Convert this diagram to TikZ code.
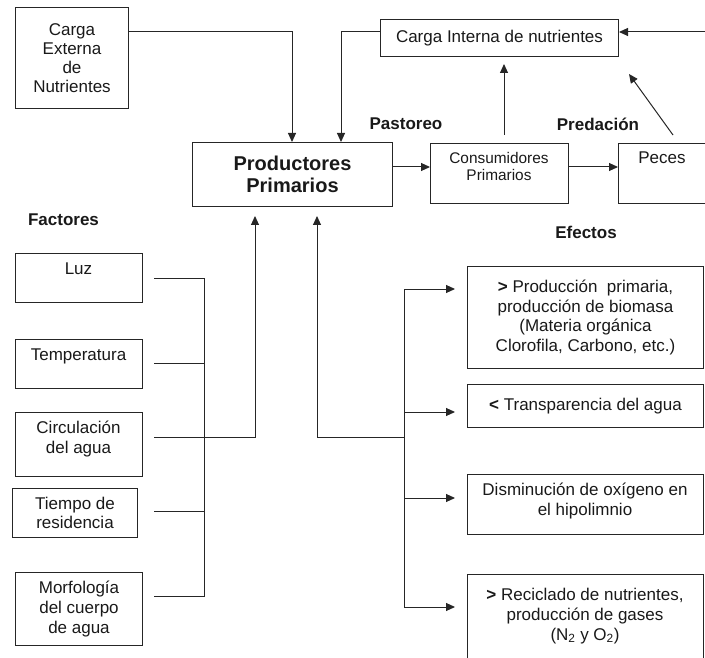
\documentclass[tikz,border=0pt]{standalone}
\usepackage{fontspec}
\setmainfont{Liberation Sans}
\usetikzlibrary{arrows.meta,calc}
\begin{document}
\begin{tikzpicture}[x=1pt,y=-1pt,
 ln/.style={line width=1pt, draw=black!85},
 arr/.style={ln, -{Triangle[length=9pt,width=8pt]}},
 box/.style={draw=black!85, line width=1pt, inner sep=0pt, anchor=north west, align=center,
   font=\fontsize{17}{19.8}\selectfont, text=black!90},
 txt/.style={font=\fontsize{17}{19.8}\selectfont, align=center, inner sep=0pt, text=black!90},
 bld/.style={font=\fontsize{17}{20}\selectfont\bfseries, inner sep=0pt, text=black!90}]
\useasboundingbox (0,0) rectangle (705,658);
% top part
\node[box, minimum width=113pt, minimum height=101pt, font=\fontsize{17}{19.2}\selectfont] (ext) at (15,7) {Carga\\Externa\\de\\Nutrientes};
\node[box, minimum width=200pt, minimum height=64pt, font=\fontsize{20}{22}\selectfont\bfseries] (prod) at (192,142) {Productores\\Primarios};
\node[box, minimum width=238pt, minimum height=37pt] (intl) at (380,19) {Carga Interna de nutrientes};
\node[box, minimum width=138pt, minimum height=60pt] (cons) at (430,143) {};
\node[txt, font=\fontsize{15.4}{17}\selectfont] (consT) at (499,166.5) {Consumidores\\Primarios};
\node[box, minimum width=94pt, minimum height=60pt] (peces) at (618,143) {};
\node[txt] (pecesT) at (662,158) {Peces};
\node[bld] (past) at (406,124) {Pastoreo};
\node[bld] (pred) at (598,124) {Predación};
% factores
\node[bld] (fact) at (63.5,220) {Factores};
\node[box, minimum width=127pt, minimum height=49pt] (luz) at (15,253) {};
\node[txt] (luzT) at (78.5,269) {Luz};
\node[box, minimum width=127pt, minimum height=49pt] (temp) at (15,339) {};
\node[txt] (tempT) at (78.5,356) {Temperatura};
\node[box, minimum width=127pt, minimum height=64pt] (circ) at (15,412) {};
\node[txt] (circT) at (78.5,439) {Circulación\\del agua};
\node[box, minimum width=125pt, minimum height=49pt] (tiem) at (12,488) {Tiempo de\\residencia};
\node[box, minimum width=127pt, minimum height=73pt] (morf) at (15,572) {Morfología\\del cuerpo\\de agua};
% efectos
\node[bld] (efe) at (586,232) {Efectos};
\node[box, minimum width=236pt, minimum height=102pt] (e1) at (467,266) {\textbf{>} Producción\ \ primaria,\\producción de biomasa\\(Materia orgánica\\Clorofila, Carbono, etc.)};
\node[box, minimum width=236pt, minimum height=43pt] (e2) at (467,384) {\textbf{<} Transparencia del agua};
\node[box, minimum width=236pt, minimum height=60pt] (e3) at (467,474) {};
\node[txt] (e3T) at (585,501) {Disminución de oxígeno en\\el hipolimnio};
\node[box, minimum width=236pt, minimum height=96pt] (e4) at (467,574) {};
\node[txt] (e4T) at (585,616) {\textbf{>} Reciclado de nutrientes,\\producción de gases\\(N\textsubscript{2} y O\textsubscript{2})};
% connectors top
\draw[arr] ($(ext.north east)+(0,25)$) -| ($(prod.north west)+(100,0)$);
\draw[arr] ($(intl.north west)+(0,13)$) -| ($(prod.north west)+(149,0)$);
\coordinate (rin) at (706,32);
\draw[arr] (rin) -- (rin -| intl.east);
\draw[arr] ($(cons.north west)+(74,-8)$) -- ($(intl.south west)+(124,7)$);
\draw[arr] ($(peces.north west)+(55,-8)$) -- ($(intl.south east)+(10,17)$);
\draw[arr] ($(prod.north east)+(0,25)$) -- ($(cons.north west)+(0,24)$);
\draw[arr] ($(cons.north east)+(0,24)$) -- ($(peces.north west)+(0,24)$);
% factor bus
\coordinate (busT) at (204,278);
\coordinate (busB) at (204,596);
\draw[ln] ($(luz.north east)+(11,25)$) -- (busT) -- (busB) -- ($(morf.north east)+(11,24)$);
\draw[ln] ($(temp.north east)+(11,24)$) -- +(51,0);
\draw[ln] ($(tiem.north east)+(16,23)$) -- +(51,0);
\draw[arr] ($(circ.north east)+(11,25)$) -| ($(prod.south west)+(63,9)$);
% effects bus
\coordinate (ebT) at (404,289);
\coordinate (ebM) at (404,437);
\coordinate (ebB) at (404,607);
\draw[arr] (ebM) -| ($(prod.south west)+(125,9)$);
\draw[ln] (ebT) -- (ebB);
\draw[arr] (ebT) -- ($(e1.north west)+(-12,23)$);
\draw[arr] ($(e2.north west)+(-63,28)$) -- ($(e2.north west)+(-12,28)$);
\draw[arr] ($(e3.north west)+(-63,24)$) -- ($(e3.north west)+(-12,24)$);
\draw[arr] (ebB) -- ($(e4.north west)+(-12,33)$);
\end{tikzpicture}
\end{document}
